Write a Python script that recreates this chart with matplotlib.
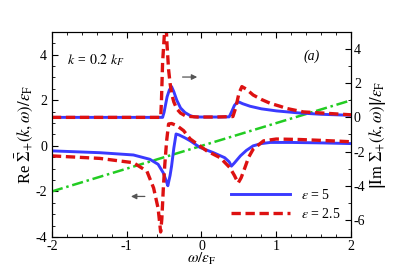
import matplotlib
matplotlib.use('Agg')
import matplotlib.pyplot as plt
from matplotlib.ticker import MultipleLocator

plt.rcParams['font.family'] = ['Liberation Serif', 'DejaVu Serif']
plt.rcParams['mathtext.fontset'] = 'stix'
plt.rcParams['axes.unicode_minus'] = False
plt.rcParams['font.size'] = 10

# Re part (left axis), eps = 5
re5_w = [-2, -1.36, -0.91, -0.69, -0.58, -0.51, -0.47, -0.45, -0.42, -0.40, -0.37, -0.34,
         -0.30, -0.22, -0.15, -0.02, 0.16, 0.31, 0.37, 0.40, 0.44, 0.52, 0.60, 0.69, 0.80,
         0.92, 1.2, 1.6, 2.0]
re5_v = [-0.22, -0.30, -0.40, -0.59, -0.81, -1.19, -1.55, -1.75, -1.30, -0.89, -0.10, 0.52,
         0.48, 0.35, 0.22, -0.07, -0.30, -0.52, -0.70, -0.89, -0.75, -0.44, -0.20, 0.0, 0.10,
         0.15, 0.15, 0.13, 0.10]

# Re part (left axis), eps = 2.5
re25_w = [-2, -1.36, -0.91, -0.73, -0.64, -0.58, -0.546, -0.53, -0.51, -0.49, -0.466, -0.44,
          -0.40, -0.33, -0.24, -0.15, 0.07, 0.25, 0.38, 0.44, 0.49, 0.53, 0.58, 0.63, 0.69,
          0.83, 1.0, 1.3, 1.6, 2.0]
re25_v = [-0.44, -0.55, -0.74, -1.11, -1.85, -2.74, -3.78, -3.2, -1.85, -0.8, 0.22, 0.96,
          0.98, 0.89, 0.67, 0.30, -0.22, -0.52, -0.96, -1.30, -1.63, -1.40, -0.96, -0.50, -0.15,
          0.22, 0.30, 0.28, 0.24, 0.18]

# |Im| part (right axis), eps = 5
im5_w = [-2, -0.52, -0.50, -0.46, -0.43, -0.40, -0.37, -0.33, -0.28, -0.22, -0.15, -0.10,
         0.0, 0.2, 0.37, 0.40, 0.44, 0.47, 0.50, 0.55, 0.65, 0.8, 1.0, 1.3, 1.6, 2.0]
im5_v = [0, 0, 0.3, 1.2, 1.6, 1.8, 1.5, 1.0, 0.55, 0.28, 0.10, 0.03,
         0.02, 0.02, 0.03, 0.30, 0.70, 0.85, 0.90, 0.80, 0.65, 0.50, 0.38, 0.26, 0.18, 0.12]

# |Im| part (right axis), eps = 2.5
im25_w = [-2, -0.545, -0.535, -0.52, -0.50, -0.48, -0.46, -0.44, -0.42, -0.40, -0.37, -0.33,
          -0.28, -0.22, -0.15, -0.05, 0.2, 0.42, 0.46, 0.50, 0.54, 0.60, 0.69, 0.8, 0.92,
          1.05, 1.14, 1.25, 1.36, 1.59, 1.81, 2.0]
im25_v = [0, 0, 1.0, 3.2, 4.6, 6.0, 4.2, 2.8, 2.0, 1.4, 0.9, 0.5,
          0.25, 0.10, 0.05, 0.02, 0.02, 0.05, 0.6, 1.4, 1.8, 1.65, 1.31, 1.05, 0.82,
          0.65, 0.52, 0.42, 0.32, 0.26, 0.20, 0.15]

# omega line on left axis
line_w = [-2, 2]
line_v = [-2, 2]

labels = [r'$\epsilon$ = 5', r'$\epsilon$ = 2.5']

blue = '#3a3aff'
red = '#dd1111'
green = '#22cc22'

fig = plt.figure(figsize=(3.99, 2.66), dpi=100)
ax = fig.add_axes([0.130, 0.109, 0.750, 0.771])
ax2 = ax.twinx()

ax.plot(line_w, line_v, color=green, lw=1.8, linestyle=(0, (4.5, 1.5, 1, 1.5)), zorder=3)
l1, = ax.plot(re5_w, re5_v, color=blue, lw=2.1, zorder=4)
l2, = ax.plot(re25_w, re25_v, color=red, lw=2.4, linestyle=(0, (2.8, 1.4)), zorder=5)
ax2.plot(im5_w, im5_v, color=blue, lw=2.1)
ax2.plot(im25_w, im25_v, color=red, lw=2.4, linestyle=(0, (2.8, 1.4)))

ax.set_xlim(-2, 2)
ax.set_ylim(-4, 5)
ax2.set_ylim(-7, 5)

ax.xaxis.set_major_locator(MultipleLocator(1))
ax.xaxis.set_minor_locator(MultipleLocator(0.2))
ax.yaxis.set_major_locator(MultipleLocator(2))
ax.yaxis.set_minor_locator(MultipleLocator(0.5))
ax2.yaxis.set_major_locator(MultipleLocator(2))
ax2.yaxis.set_minor_locator(MultipleLocator(1))

ax.tick_params(which='both', direction='in', top=True, right=False, labelsize=10, pad=2)
ax.tick_params(axis='y', pad=3.5)
ax.tick_params(which='major', length=4)
ax.tick_params(which='minor', length=2.5)
ax2.tick_params(which='both', direction='in', labelsize=10, pad=2)
ax2.tick_params(which='major', length=4)
ax2.tick_params(which='minor', length=2.5)

ax.set_xlabel(r'$\omega/\varepsilon_{\rm F}$', fontsize=11, labelpad=-1)
ax.set_ylabel(r'Re $\bar{\Sigma}_{+}(k,\omega)/\varepsilon_{\rm F}$', fontsize=12, labelpad=0)
ax2.set_ylabel(r'$\left|{\rm Im}\ \Sigma_{+}(k,\omega)\right|/\varepsilon_{\rm F}$', fontsize=12, labelpad=1)

ax.text(0.05, 0.865, r'$k$ = $0.2$ $k_F$', transform=ax.transAxes, fontsize=10,
        fontstyle='italic', va='center')
ax.text(0.84, 0.88, '(a)', transform=ax.transAxes, fontsize=10, fontstyle='italic', va='center')

ax.annotate('', xy=(-0.02, 3.02), xytext=(-0.29, 3.02),
            arrowprops=dict(arrowstyle='-|>', color='#555555', lw=0.9, mutation_scale=8))
ax.annotate('', xy=(-0.98, -2.22), xytext=(-0.72, -2.22),
            arrowprops=dict(arrowstyle='-|>', color='#555555', lw=0.9, mutation_scale=8))

ax.legend([l1, l2], labels, loc='lower left',
          bbox_to_anchor=(0.60, 0.08), frameon=False, handlelength=4.2,
          borderaxespad=0, borderpad=0, labelspacing=0.35, fontsize=10, handletextpad=0.8)

fig.savefig('out.png', dpi=100)
